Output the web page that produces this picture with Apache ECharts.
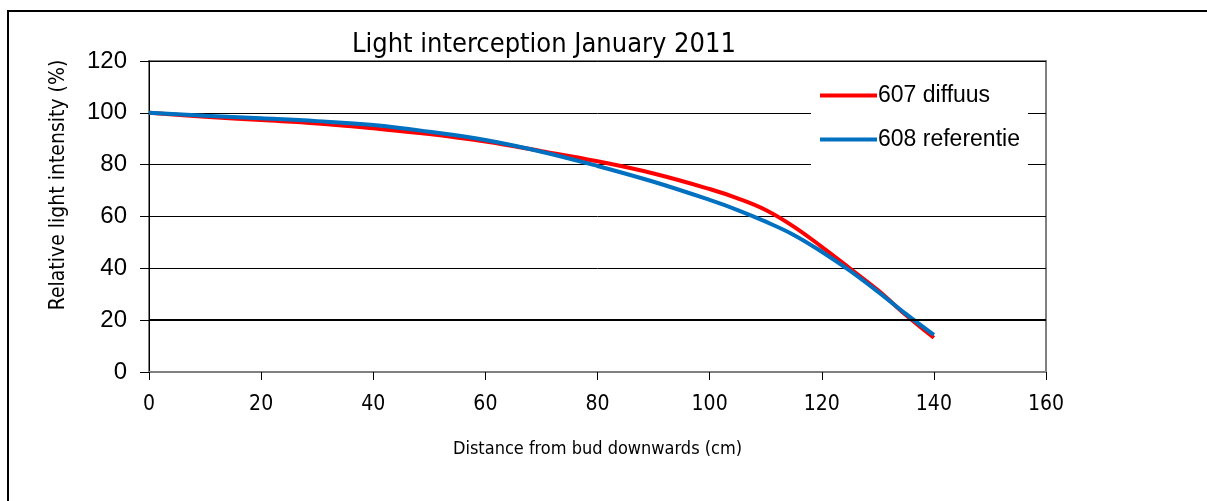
<!DOCTYPE html>
<html>
<head>
<meta charset="utf-8">
<script src="https://cdn.jsdelivr.net/npm/echarts@6/dist/echarts.min.js"></script>
<style>
  html, body { margin: 0; padding: 0; background: #fff; }
  #chart { width: 1207px; height: 501px; }
</style>
</head>
<body>
<div id="chart"></div>
<script>
// distance from bud (cm)
const distance = [0, 10, 20, 30, 40, 50, 60, 70, 80, 90, 100, 105, 110, 115, 120, 125, 130, 135, 140];
// relative light intensity (%)
const diffuus607 = [100, 98.5, 97.2, 95.9, 94, 91.8, 88.9, 85.2, 81.3, 76.6, 70.6, 67, 62.5, 56.1, 48.3, 40, 31.6, 22, 13.2];
const referentie608 = [100, 98.9, 97.9, 96.8, 95.3, 92.7, 89.5, 85, 79.5, 73.4, 66.4, 62.5, 58, 52.9, 46.4, 39.1, 31, 22.4, 14.3];

const pairs = (xs, ys) => xs.map((x, i) => [x, ys[i]]);

let myChart = echarts.init(document.getElementById('chart'));

let option = {
  animation: false,
  backgroundColor: '#fff',
  title: {
    text: 'Light interception January 2011',
    left: 347, top: 26,
    textStyle: { fontFamily: 'DejaVu Sans Condensed, sans-serif', fontSize: 27, fontWeight: 'normal', color: '#000' }
  },
  graphic: [
    // outer frame (only top and left edges fall inside the picture)
    { type: 'rect', shape: { x: 8, y: 11, width: 1300, height: 600 }, style: { fill: null, stroke: '#000', lineWidth: 2 }, silent: true },
    // y axis title, placed like the original (a bit above the plot centre)
    {
      type: 'text', x: 59, y: 185, rotation: Math.PI / 2, silent: true,
      style: { text: 'Relative light intensity (%)', align: 'center', verticalAlign: 'middle',
               font: '21px "DejaVu Sans Condensed", sans-serif', fill: '#000' }
    }
  ],
  legend: {
    orient: 'vertical',
    left: 811, top: 62,
    padding: [22, 8, 14, 9],
    backgroundColor: '#fff',
    itemWidth: 57, itemHeight: 4, itemGap: 21,
    icon: 'rect',
    textStyle: { fontFamily: 'Liberation Sans, Arial, sans-serif', fontSize: 23, color: '#000', padding: [0, 0, 0, -4] },
    data: ['607 diffuus', '608 referentie']
  },
  grid: { left: 149, right: 161, top: 61, bottom: 129, show: true, borderColor: '#808080', borderWidth: 2 },
  xAxis: {
    type: 'value', min: 0, max: 160, interval: 20,
    name: 'Distance from bud downwards (cm)',
    nameLocation: 'middle', nameGap: 68,
    nameTextStyle: { fontFamily: 'DejaVu Sans Condensed, sans-serif', fontSize: 18, color: '#000' },
    axisLine: { lineStyle: { color: '#808080', width: 2 } },
    axisTick: { length: 8, lineStyle: { color: '#000' } },
    axisLabel: { margin: 22, fontFamily: 'DejaVu Sans Condensed, sans-serif', fontSize: 21, color: '#000' },
    splitLine: { show: false }
  },
  yAxis: {
    type: 'value', min: 0, max: 120, interval: 20,
    axisLine: { show: true, lineStyle: { color: '#000', width: 1 } },
    axisTick: { show: true, length: 9, lineStyle: { color: '#000' } },
    axisLabel: { margin: 22, fontFamily: 'Liberation Sans, Arial, sans-serif', fontSize: 24, color: '#000' },
    splitLine: { lineStyle: { color: '#000', width: 1 } }
  },
  series: [
    {
      name: '607 diffuus', type: 'line', smooth: 0.4, showSymbol: false,
      color: '#ff0000', lineStyle: { width: 4 },
      data: pairs(distance, diffuus607),
      markLine: { silent: true, symbol: 'none', label: { show: false }, lineStyle: { color: '#000', width: 2, type: 'solid' }, data: [{ yAxis: 20 }] },
      z: 3
    },
    {
      name: '608 referentie', type: 'line', smooth: 0.4, showSymbol: false,
      color: '#0070c0', lineStyle: { width: 4 },
      data: pairs(distance, referentie608),
      z: 4
    }
  ]
};

myChart.setOption(option);
</script>
</body>
</html>
